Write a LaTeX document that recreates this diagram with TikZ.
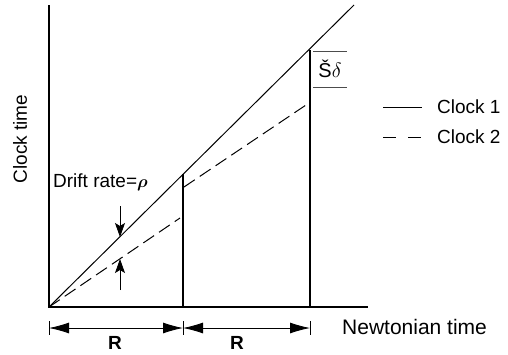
\documentclass[tikz,border=0pt]{standalone}
\usepackage{amsmath}
\usepackage{fontspec}
\setmainfont{Liberation Sans}
\usetikzlibrary{arrows.meta}
\begin{document}
\begin{tikzpicture}[x=1pt,y=-1pt,
  lbl/.style={inner sep=0pt,font=\fontsize{19}{22}\selectfont},
  axis/.style={line width=1.6pt},
  diag/.style={line width=1pt},
  dash2/.style={line width=1pt,dash pattern=on 13pt off 6pt},
  bar/.style={line width=1.8pt},
  drift/.style={line width=0.8pt,-{Stealth[length=14pt,width=10pt,inset=3pt]}},
  dim/.style={line width=0.8pt,{Latex[length=20pt,width=11pt]}-{Latex[length=20pt,width=11pt]}},
  tick/.style={line width=0.8pt},
  thinline/.style={line width=0.8pt,black!70}]
\useasboundingbox (0,0) rectangle (508,354);
% axes
\coordinate (O) at (49,307);
\coordinate (ytop) at (49,5);
\coordinate (xend) at (368,307);
\draw[axis] (ytop) -- (O) -- (xend);
% clock 1
\coordinate (c1end) at (354,5);
\draw[diag] (O) -- (c1end);
% verticals
\coordinate (v1b) at (183,307);
\coordinate (v1t) at (183,174);
\coordinate (v2b) at (310,307);
\coordinate (v2t) at (310,50);
\draw[bar] (v1b) -- (v1t);
\draw[bar] (v2b) -- (v2t);
% clock 2
\coordinate (d1e) at (180,218);
\coordinate (d2s) at (184,187);
\coordinate (d2e) at (306,105);
\draw[dash2] (O) -- (d1e);
\draw[dash2] (d2s) -- (d2e);
% drift arrows
\coordinate (a1s) at (120,206);
\coordinate (a1e) at (120,237);
\coordinate (a2s) at (120,290);
\coordinate (a2e) at (120,259);
\draw[drift] (a1s) -- (a1e);
\draw[drift] (a2s) -- (a2e);
\node[lbl,anchor=west] (drift) at (53,182) {Drift rate=$\boldsymbol{\rho}$};
% S delta
\coordinate (s1a) at (313,51);
\coordinate (s1b) at (347,51);
\coordinate (s2a) at (313,87);
\coordinate (s2b) at (347,87);
\draw[thinline] (s1a) -- (s1b);
\draw[thinline] (s2a) -- (s2b);
\node[lbl,font=\fontsize{20}{22}\selectfont] (sd) at (330,69) {Š$\delta$};
% legend
\coordinate (l1a) at (383,107);
\coordinate (l1b) at (422,107);
\coordinate (l2a) at (383,137);
\coordinate (l2b) at (422,137);
\draw[line width=0.8pt] (l1a) -- (l1b);
\draw[line width=0.8pt,dash pattern=on 13pt off 12pt] (l2a) -- (l2b);
\node[lbl,anchor=west] (c1) at (437,107) {Clock 1};
\node[lbl,anchor=west] (c2) at (437,137) {Clock 2};
% axis labels
\node[lbl,rotate=90] (yl) at (20,139) {Clock time};
\node[lbl,anchor=west,font=\fontsize{21}{24}\selectfont] (xl) at (342,327) {Newtonian time};
% dimension
\foreach \x/\n in {49/t0,183/t1,310/t2}{
  \coordinate (\n a) at (\x,321);
  \coordinate (\n b) at (\x,335);
  \coordinate (\n) at (\x,328);
  \draw[tick] (\n a) -- (\n b);
}
\draw[dim] (t0) -- (t1);
\draw[dim] (t1) -- (t2);
\node[lbl,font=\fontsize{19}{22}\selectfont\bfseries] (r1) at (115,343) {R};
\node[lbl,font=\fontsize{19}{22}\selectfont\bfseries] (r2) at (237,343) {R};
\end{tikzpicture}
\end{document}
